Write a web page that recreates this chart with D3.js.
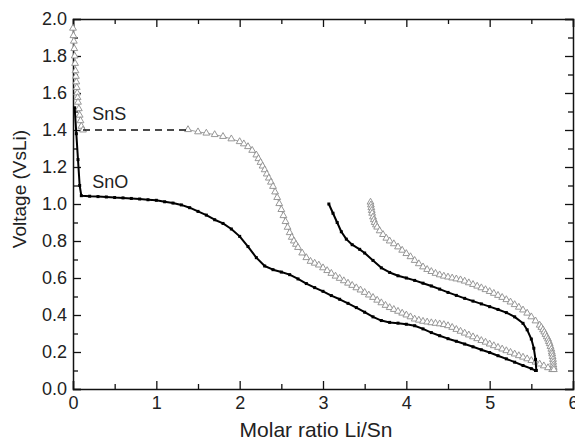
<!DOCTYPE html>
<html>
<head>
<meta charset="utf-8">
<script src="https://cdn.jsdelivr.net/npm/d3@7"></script>
<style>
  body { margin: 0; background: #fff; }
  svg { display: block; font-family: "Liberation Sans", Arial, Helvetica, sans-serif; }
</style>
</head>
<body>
<svg id="chart"></svg>
<script>
// values: [molar ratio Li/Sn, voltage]
const snoDischarge = [
  [0.02,1.52],[0.04,1.38],[0.06,1.24],[0.08,1.10],[0.10,1.045],[0.2,1.042],[0.3,1.040],[0.4,1.038],
  [0.5,1.035],[0.6,1.033],[0.7,1.030],[0.8,1.027],[0.9,1.023],[1.0,1.02],[1.1,1.012],[1.2,1.005],
  [1.3,0.995],[1.4,0.98],[1.5,0.96],[1.6,0.94],[1.7,0.915],[1.8,0.895],[1.9,0.865],[2.0,0.825],
  [2.1,0.77],[2.2,0.71],[2.3,0.665],[2.4,0.645],[2.5,0.632],[2.6,0.618],[2.7,0.595],[2.8,0.57],
  [2.9,0.548],[3.0,0.528],[3.1,0.505],[3.2,0.485],[3.3,0.463],[3.4,0.44],[3.5,0.415],[3.6,0.39],
  [3.7,0.37],[3.8,0.36],[3.9,0.356],[4.0,0.35],[4.1,0.342],[4.2,0.325],[4.3,0.305],[4.4,0.288],
  [4.5,0.272],[4.6,0.258],[4.7,0.243],[4.8,0.228],[4.9,0.212],[5.0,0.197],[5.1,0.18],[5.2,0.163],
  [5.3,0.145],[5.4,0.127],[5.5,0.11],[5.55,0.10]
]
const snoCharge = [
  [3.07,1.00],[3.12,0.95],[3.17,0.90],[3.22,0.85],[3.28,0.81],[3.35,0.78],[3.44,0.755],[3.5,0.735],
  [3.6,0.695],[3.7,0.655],[3.8,0.63],[3.9,0.612],[4.0,0.60],[4.1,0.587],[4.2,0.572],[4.3,0.557],
  [4.4,0.54],[4.5,0.522],[4.6,0.506],[4.7,0.49],[4.8,0.475],[4.9,0.46],[5.0,0.445],[5.1,0.43],
  [5.2,0.413],[5.3,0.39],[5.4,0.355],[5.45,0.32],[5.5,0.27],[5.53,0.22],[5.55,0.16],[5.56,0.10]
]
const snsStart = [
  [0.0,1.95],[0.005,1.91],[0.01,1.88],[0.015,1.84],[0.02,1.80],[0.025,1.76],[0.03,1.72],[0.035,1.69],
  [0.04,1.66],[0.045,1.63],[0.05,1.60],[0.055,1.575],[0.06,1.55],[0.07,1.515],[0.08,1.48],[0.09,1.45],
  [0.10,1.42],[0.12,1.40]
]
const snsGap = [[0.12,1.40],[1.38,1.40]]
const snsDischarge = [
  [1.38,1.402],[1.5,1.39],[1.6,1.383],[1.7,1.375],[1.8,1.365],[1.9,1.352],[2.0,1.337],[2.05,1.325],
  [2.1,1.31],[2.15,1.29],[2.2,1.265],[2.225,1.245],[2.25,1.225],[2.275,1.205],[2.3,1.185],[2.325,1.162],
  [2.35,1.14],[2.375,1.118],[2.4,1.095],[2.425,1.065],[2.45,1.035],[2.475,1.002],[2.5,0.97],[2.525,0.937],
  [2.55,0.905],[2.575,0.874],[2.6,0.845],[2.625,0.82],[2.65,0.8],[2.675,0.782],[2.7,0.765],[2.75,0.735],
  [2.8,0.71],[2.85,0.69],[2.9,0.68],[2.95,0.67],[3.0,0.655],[3.05,0.64],[3.1,0.625],[3.15,0.61],
  [3.2,0.598],[3.25,0.585],[3.3,0.572],[3.35,0.56],[3.4,0.547],[3.45,0.535],[3.5,0.522],[3.55,0.508],
  [3.6,0.495],[3.65,0.48],[3.7,0.466],[3.75,0.452],[3.8,0.44],[3.85,0.43],[3.9,0.42],[3.95,0.41],
  [4.0,0.40],[4.05,0.39],[4.1,0.378],[4.15,0.372],[4.2,0.366],[4.25,0.362],[4.3,0.358],[4.35,0.355],
  [4.4,0.352],[4.45,0.348],[4.5,0.342],[4.55,0.333],[4.6,0.322],[4.65,0.312],[4.7,0.302],[4.75,0.292],
  [4.8,0.282],[4.85,0.272],[4.9,0.262],[4.95,0.253],[5.0,0.243],[5.05,0.234],[5.1,0.225],[5.15,0.216],
  [5.2,0.207],[5.25,0.198],[5.3,0.189],[5.35,0.18],[5.4,0.172],[5.45,0.163],[5.5,0.154],[5.55,0.145],
  [5.6,0.135],[5.65,0.125],[5.7,0.115],[5.75,0.105]
]
const snsCharge = [
  [3.57,1.01],[3.575,0.995],[3.58,0.98],[3.585,0.965],[3.59,0.95],[3.6,0.93],[3.61,0.915],[3.62,0.90],
  [3.635,0.887],[3.65,0.875],[3.68,0.855],[3.72,0.835],[3.76,0.815],[3.8,0.80],[3.85,0.785],[3.9,0.768],
  [3.95,0.75],[4.0,0.732],[4.05,0.715],[4.1,0.695],[4.15,0.677],[4.2,0.66],[4.25,0.646],[4.3,0.635],
  [4.35,0.625],[4.4,0.617],[4.45,0.61],[4.5,0.605],[4.55,0.6],[4.6,0.595],[4.65,0.59],[4.7,0.583],
  [4.75,0.574],[4.8,0.565],[4.85,0.556],[4.9,0.547],[4.95,0.537],[5.0,0.527],[5.05,0.517],[5.1,0.506],
  [5.15,0.495],[5.2,0.483],[5.25,0.47],[5.3,0.456],[5.35,0.442],[5.4,0.427],[5.45,0.41],[5.5,0.39],
  [5.55,0.368],[5.6,0.345],[5.62,0.333],[5.64,0.32],[5.655,0.308],[5.67,0.295],[5.685,0.282],[5.7,0.27],
  [5.71,0.257],[5.72,0.245],[5.73,0.23],[5.74,0.215],[5.745,0.2],[5.75,0.19],[5.755,0.175],[5.76,0.16],
  [5.762,0.145],[5.765,0.13],[5.768,0.117],[5.77,0.105]
]
const xTicks = [0, 1, 2, 3, 4, 5, 6]
const yTicks = [0.0, 0.2, 0.4, 0.6, 0.8, 1.0, 1.2, 1.4, 1.6, 1.8, 2.0]
const curveLabels = [{text: "SnS", x: 0.23, y: 1.455}, {text: "SnO", x: 0.23, y: 1.085}]

const width = 575, height = 441
const margin = {top: 19, right: 2, bottom: 52, left: 73}

const svg = d3.select("#chart").attr("width", width).attr("height", height)

const x = d3.scaleLinear().domain([0, 6]).range([margin.left, width - margin.right])
const y = d3.scaleLinear().domain([0, 2]).range([height - margin.bottom, margin.top])

const line = d3.line().x(d => x(d[0])).y(d => y(d[1]))

const xMinor = d3.range(0.5, 6, 1)
const yMinor = d3.range(0.1, 2, 0.2)

// bottom and left axes, ticks inward
svg.append("g")
    .attr("transform", `translate(0,${height - margin.bottom})`)
    .call(d3.axisBottom(x).tickValues(xTicks).tickSize(-8).tickPadding(7).tickFormat(d3.format("d")))
    .call(g => g.selectAll("text").attr("font-size", 18).attr("fill", "#222"))
svg.append("g")
    .attr("transform", `translate(0,${height - margin.bottom})`)
    .call(d3.axisBottom(x).tickValues(xMinor).tickSize(-5).tickFormat(""))
    .call(g => g.select(".domain").remove())
svg.append("g")
    .attr("transform", `translate(${margin.left},0)`)
    .call(d3.axisLeft(y).tickValues(yTicks).tickSize(-8).tickPadding(6).tickFormat(d3.format(".1f")))
    .call(g => g.selectAll("text").attr("font-size", 18).attr("fill", "#222"))
svg.append("g")
    .attr("transform", `translate(${margin.left},0)`)
    .call(d3.axisLeft(y).tickValues(yMinor).tickSize(-5).tickFormat(""))
    .call(g => g.select(".domain").remove())

// top and right axes, no labels
svg.append("g")
    .attr("transform", `translate(0,${margin.top})`)
    .call(d3.axisTop(x).tickValues(xTicks).tickSize(-8).tickFormat(""))
svg.append("g")
    .attr("transform", `translate(0,${margin.top})`)
    .call(d3.axisTop(x).tickValues(xMinor).tickSize(-5).tickFormat(""))
    .call(g => g.select(".domain").remove())
svg.append("g")
    .attr("transform", `translate(${width - margin.right},0)`)
    .call(d3.axisRight(y).tickValues(yTicks).tickSize(-8).tickFormat(""))
svg.append("g")
    .attr("transform", `translate(${width - margin.right},0)`)
    .call(d3.axisRight(y).tickValues(yMinor).tickSize(-5).tickFormat(""))
    .call(g => g.select(".domain").remove())

svg.selectAll(".domain").attr("stroke", "#111").attr("stroke-width", 1.5)
svg.selectAll(".tick line").attr("stroke", "#111").attr("stroke-width", 1.3)

// SnS curves: grey hollow triangles
const tri = d3.symbol(d3.symbolTriangle).size(20)
for (const s of [snsStart, snsDischarge, snsCharge]) {
  svg.append("path")
      .datum(s)
      .attr("fill", "none")
      .attr("stroke", "#a0a0a0")
      .attr("stroke-width", 1)
      .attr("d", line)
  svg.append("g").selectAll("path")
    .data(s)
    .join("path")
      .attr("transform", d => `translate(${x(d[0])},${y(d[1])})`)
      .attr("d", tri)
      .attr("fill", "#fff")
      .attr("stroke", "#8c8c8c")
      .attr("stroke-width", 0.9)
}
svg.append("path")
    .datum(snsGap)
    .attr("fill", "none")
    .attr("stroke", "#111")
    .attr("stroke-width", 1.6)
    .attr("stroke-dasharray", "7,5")
    .attr("d", line)

// SnO curves: black line with small squares
for (const s of [snoDischarge, snoCharge]) {
  svg.append("path")
      .datum(s)
      .attr("fill", "none")
      .attr("stroke", "#000")
      .attr("stroke-width", 2)
      .attr("stroke-linejoin", "round")
      .attr("d", line)
  svg.append("g").selectAll("rect")
    .data(s)
    .join("rect")
      .attr("x", d => x(d[0]) - 1.5)
      .attr("y", d => y(d[1]) - 1.5)
      .attr("width", 3)
      .attr("height", 3)
      .attr("fill", "#000")
}

svg.append("g").selectAll("text")
  .data(curveLabels)
  .join("text")
    .attr("x", d => x(d.x))
    .attr("y", d => y(d.y))
    .attr("font-size", 18)
    .attr("fill", "#222")
    .text(d => d.text)

svg.append("text")
    .attr("x", 316)
    .attr("y", height - 4)
    .attr("text-anchor", "middle")
    .attr("font-size", 21)
    .attr("fill", "#222")
    .text("Molar ratio Li/Sn")

svg.append("text")
    .attr("transform", `translate(26,189) rotate(-90)`)
    .attr("text-anchor", "middle")
    .attr("font-size", 19)
    .attr("fill", "#222")
    .text("Voltage (VsLi)")
</script>
</body>
</html>
